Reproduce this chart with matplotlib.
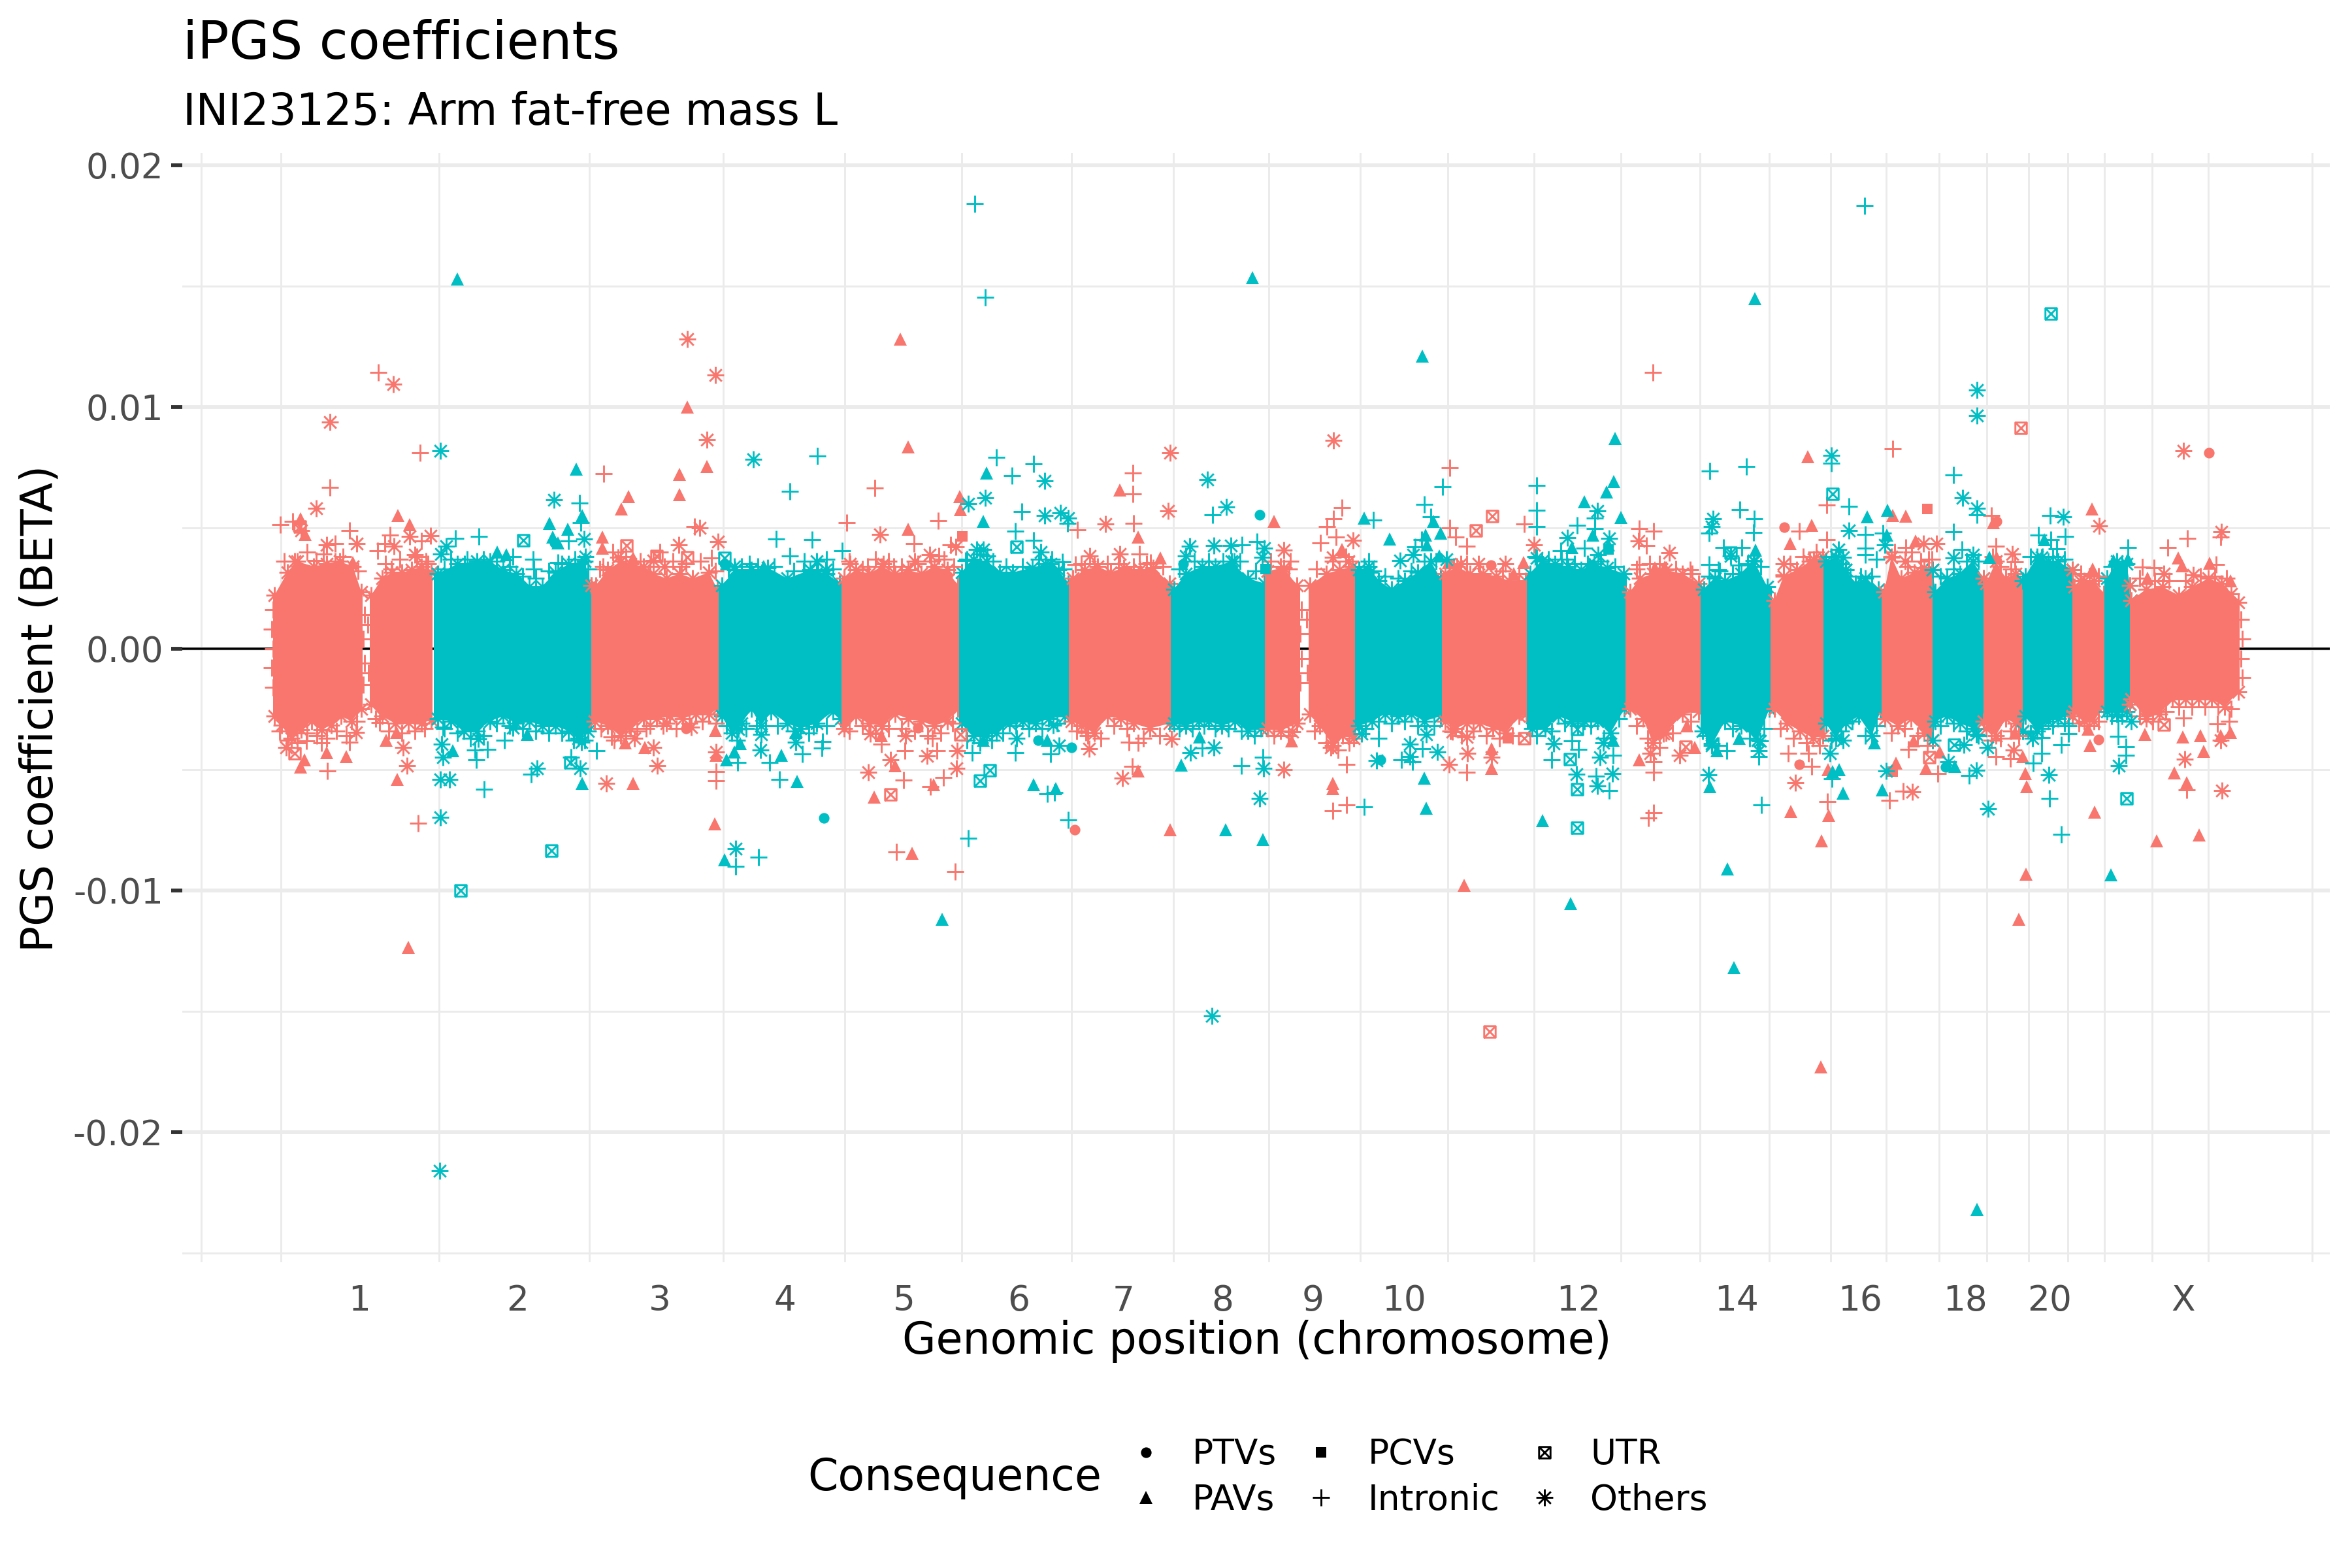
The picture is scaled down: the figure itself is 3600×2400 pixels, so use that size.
import numpy as np
import matplotlib
matplotlib.use('Agg')
import matplotlib.pyplot as plt
from matplotlib.path import Path
from matplotlib.lines import Line2D

W, H = 3600, 2400
PANEL = (279, 3566, 234, 1932)  # left, right, top, bottom in px

RED = '#F8766D'
CYAN = '#00BFC4'

# x is the cumulative genomic position in plot units, beta is in units of 1e-3
x_lim = (279, 3566)
y_lim = (-25.38, 20.5)
y_major = [-20, -10, 0, 10, 20]
y_labels = ['-0.02', '-0.01', '0.00', '0.01', '0.02']
y_minor = [-25, -15, -5, 5, 15]
chrom_breaks = [308, 430, 672, 902, 1107, 1293, 1472, 1640, 1796, 1942, 2082, 2216, 2348,
                2481, 2602, 2708, 2802, 2887, 2968, 3041, 3105, 3165, 3221, 3294, 3380, 3539]
chrom_names = ['1', '2', '3', '4', '5', '6', '7', '8', '9', '10', '12', '14', '16', '18', '20', 'X']
chrom_mid = [550, 792, 1010, 1201, 1384, 1559, 1720, 1871, 2010, 2149, 2416, 2658, 2847, 3008, 3137, 3342]

# dense band of each chromosome: outline
seg_left = [418, 566, 664, 905, 1100, 1288, 1468, 1636, 1792, 1936, 2003, 2074, 2207, 2337,
            2488, 2603, 2710, 2791, 2880, 2958, 3036, 3096, 3172, 3221, 3260]
seg_right = [555, 662, 906, 1102, 1290, 1470, 1638, 1794, 1938, 1990, 2076, 2209, 2339, 2490,
             2605, 2712, 2793, 2882, 2960, 3038, 3098, 3174, 3223, 3262, 3428]
seg_colors = [RED, RED, CYAN, RED, CYAN, RED, CYAN, RED, CYAN, RED, RED, CYAN, RED, CYAN,
              RED, CYAN, RED, CYAN, RED, CYAN, RED, CYAN, RED, CYAN, RED]
band_top = [
    (420,1.9),(440,2.85),(455,3.3),(480,3.1),(500,3.2),(520,3.3),(540,3.1),(553,2.05),
    (568,1.9),(585,2.6),(600,2.85),(615,2.85),(630,2.95),(645,3.1),(660,2.85),
    (670,2.8),(700,3.2),(730,3.3),(750,3.3),(770,2.95),(790,2.8),(810,2.25),(830,2.25),(850,2.85),(870,3.2),(895,3.3),(905,2.3),
    (912,2.3),(930,2.95),(950,3.3),(965,3.2),(985,3.1),(1000,2.8),(1020,2.6),(1040,2.8),(1060,2.6),(1085,2.85),(1098,2.15),
    (1105,2.3),(1125,2.95),(1150,2.95),(1175,3.05),(1205,2.6),(1240,2.95),(1265,2.8),(1285,2.4),
    (1292,2.6),(1310,2.95),(1330,2.8),(1350,3.1),(1370,2.8),(1390,2.95),(1410,2.8),(1430,3.1),(1450,2.95),(1466,2.3),
    (1472,2.85),(1490,3.4),(1510,3.3),(1530,2.85),(1550,2.85),(1580,3.05),(1600,3.2),(1620,2.95),(1635,2.4),
    (1642,2.6),(1660,2.95),(1680,3.1),(1700,2.85),(1720,3.05),(1745,2.95),(1765,3.05),(1790,2.4),
    (1797,2.15),(1815,2.8),(1840,3.1),(1860,3.1),(1885,3.3),(1910,2.6),(1935,2.4),
    (1940,2.9),(1965,3.05),(1985,2.3),
    (2005,2.3),(2030,2.8),(2050,2.95),(2070,3.1),
    (2080,2.95),(2095,3.1),(2110,2.5),(2130,2.15),(2150,2.5),(2170,2.85),(2190,3.3),(2205,2.6),
    (2212,2.8),(2230,3.1),(2250,2.8),(2270,2.8),(2290,2.7),(2310,2.5),(2335,2.5),
    (2342,2.8),(2360,3.3),(2380,3.2),(2400,3.1),(2420,2.95),(2440,3.2),(2460,3.05),(2485,2.8),
    (2495,2.05),(2510,2.6),(2530,2.8),(2550,2.95),(2575,2.8),(2600,2.4),
    (2608,2.15),(2625,2.6),(2640,2.5),(2665,2.8),(2685,3.3),(2705,2.25),
    (2716,1.7),(2730,2.7),(2750,2.95),(2770,3.3),(2790,3.5),
    (2795,3.3),(2810,3.5),(2825,2.95),(2840,2.4),(2855,2.6),(2875,2.15),
    (2884,2.05),(2895,3.5),(2910,2.6),(2930,2.85),(2945,3.05),(2958,2.95),
    (2962,2.05),(2980,2.6),(3000,2.8),(3020,3.3),(3036,2.6),
    (3040,2.4),(3055,3.3),(3070,2.6),(3085,2.8),(3096,2.5),
    (3100,2.7),(3118,3.5),(3135,3.3),(3150,3.3),(3172,2.95),
    (3175,2.25),(3190,2.5),(3205,2.5),(3220,1.95),
    (3225,2.6),(3240,3.3),(3255,3.2),(3260,2.3),
    (3262,1.7),(3285,2.15),(3310,2.25),(3335,1.9),(3355,2.25),(3380,2.6),(3400,2.4),(3415,1.95),(3426,1.6),
]
band_bot = [
    (420,-2.5),(431,-2.87),(446,-3.4),(461,-3.05),(477,-2.7),(492,-3.05),(507,-2.87),(522,-2.5),(538,-2.7),(553,-2.2),
    (568,-2.0),(585,-2.5),(605,-2.8),(625,-2.75),(645,-2.8),(660,-2.65),
    (670,-2.6),(690,-2.7),(710,-3.1),(730,-3.1),(750,-2.7),(770,-2.5),(790,-2.8),(810,-2.7),(830,-2.9),(850,-2.9),(870,-3.1),(885,-3.4),(900,-3.1),
    (910,-2.7),(930,-2.9),(950,-3.3),(965,-3.0),(985,-2.6),(1005,-2.6),(1025,-2.5),(1045,-2.6),(1065,-2.4),(1085,-2.4),(1098,-2.2),
    (1105,-2.5),(1120,-3.2),(1135,-2.8),(1150,-2.2),(1165,-2.9),(1180,-2.3),(1205,-2.8),(1225,-3.0),(1250,-2.8),(1275,-2.3),(1287,-2.6),
    (1292,-3.0),(1310,-2.5),(1330,-2.8),(1350,-2.9),(1370,-2.4),(1390,-2.6),(1410,-2.7),(1430,-2.9),(1450,-2.7),(1466,-2.2),
    (1472,-2.8),(1490,-3.3),(1510,-3.3),(1525,-3.2),(1545,-2.8),(1565,-2.7),(1585,-2.8),(1605,-2.6),(1630,-2.5),
    (1640,-2.7),(1655,-2.9),(1675,-3.2),(1695,-2.5),(1715,-2.6),(1735,-2.8),(1760,-3.0),(1790,-2.8),
    (1797,-2.8),(1815,-2.9),(1835,-2.7),(1850,-2.7),(1870,-2.9),(1890,-2.7),(1910,-3.1),(1930,-3.0),
    (1940,-3.0),(1960,-3.1),(1985,-2.8),
    (2005,-2.4),(2020,-2.9),(2040,-3.7),(2055,-3.3),(2072,-3.4),
    (2080,-2.9),(2100,-2.7),(2120,-2.4),(2140,-2.5),(2160,-2.4),(2180,-2.7),(2205,-2.5),
    (2212,-2.7),(2228,-3.0),(2245,-2.8),(2265,-2.8),(2285,-3.0),(2305,-3.2),(2325,-2.5),(2336,-2.4),
    (2345,-3.0),(2365,-3.0),(2385,-2.5),(2405,-2.7),(2425,-2.7),(2445,-2.7),(2465,-3.2),(2486,-2.2),
    (2495,-2.2),(2515,-2.6),(2530,-3.6),(2550,-3.2),(2575,-2.4),(2600,-2.3),
    (2606,-3.1),(2620,-3.7),(2640,-2.7),(2665,-2.9),(2690,-3.5),(2708,-2.2),
    (2716,-2.2),(2735,-2.8),(2755,-3.1),(2775,-3.4),(2790,-3.3),
    (2795,-2.8),(2810,-3.4),(2825,-2.8),(2845,-2.5),(2865,-3.3),(2878,-2.3),
    (2885,-2.6),(2905,-2.9),(2925,-2.6),(2945,-3.2),(2958,-3.5),
    (2962,-2.7),(2980,-2.5),(3000,-2.8),(3020,-3.0),(3036,-2.7),
    (3040,-3.0),(3055,-3.3),(3070,-2.6),(3085,-2.8),(3096,-3.1),
    (3100,-2.5),(3118,-3.1),(3135,-2.7),(3150,-2.6),(3172,-2.5),
    (3175,-2.3),(3190,-2.7),(3205,-2.7),(3220,-2.1),
    (3225,-2.3),(3240,-2.4),(3255,-2.3),(3260,-2.0),
    (3262,-1.8),(3285,-2.6),(3305,-2.4),(3325,-1.8),(3345,-1.8),(3365,-1.8),(3385,-1.8),(3405,-2.1),(3426,-1.5),
]

# loose marks around the band and along its outer sides
fringe_red = [
    (435,3.6),(470,4.0),(495,3.9),(525,3.8),(548,3.2),(590,3.5),(612,3.7),(638,3.8),(652,3.6),(918,3.3),(938,4.0),(958,3.8),(980,3.6),(995,3.4),(1030,3.6),(1050,3.5),(1072,3.6),(1095,3.2),
    (1300,3.6),(1320,3.3),(1340,3.7),(1360,3.6),(1380,3.4),(1405,3.5),(1425,3.6),(1445,3.7),(1460,3.4),(1655,3.5),(1675,3.5),(1695,3.5),(1712,3.5),(1735,3.4),(1755,3.5),(1780,3.4),
    (1945,3.6),(1975,3.6),(2015,3.3),(2040,3.6),(2060,3.8),(2225,3.4),(2245,3.5),(2265,3.1),(2300,3.2),(2325,3.1),(2505,3.3),(2525,3.5),(2540,3.5),(2565,3.3),(2590,3.1),
    (2740,3.5),(2760,3.8),(2780,4.0),(2900,4.0),(2920,3.4),(2940,3.6),(2952,3.7),(3050,3.8),(3062,3.4),(3078,3.3),(3185,3.1),(3198,3.0),(3212,3.0),
    (3275,2.9),(3298,2.8),(3320,2.8),(3345,2.8),(3368,3.0),(3390,3.0),(3408,2.9),
    (428,-3.4),(440,-3.8),(455,-3.9),(470,-3.5),(485,-3.6),(500,-3.7),(515,-3.4),(530,-3.6),(546,-3.0),(575,-2.9),(595,-3.4),(615,-3.5),(635,-3.4),(650,-3.3),
    (920,-3.3),(940,-3.8),(958,-3.6),(975,-3.4),(995,-3.2),(1015,-3.2),(1035,-3.3),(1055,-3.1),(1075,-3.0),(1300,-3.4),(1320,-3.2),(1340,-3.5),(1360,-3.3),(1380,-3.3),(1400,-3.4),(1420,-3.6),(1440,-3.5),(1458,-3.1),
    (1648,-3.4),(1665,-3.6),(1685,-3.7),(1705,-3.2),(1725,-3.3),(1750,-3.7),(1775,-3.6),(1950,-3.6),(1972,-3.6),(2012,-3.4),(2030,-3.9),(2048,-4.2),(2065,-3.9),
    (2220,-3.4),(2237,-3.6),(2255,-3.4),(2275,-3.6),(2295,-3.7),(2315,-3.6),(2505,-3.2),(2522,-3.7),(2540,-4.1),(2560,-3.5),(2588,-3.0),
    (2725,-3.3),(2745,-3.7),(2765,-3.9),(2785,-4.0),(2895,-3.5),(2915,-3.3),(2935,-3.6),(2950,-4.0),(3048,-3.8),(3062,-3.7),(3078,-3.4),(3090,-3.6),
    (3182,-3.1),(3198,-3.2),(3212,-3.0),(3275,-2.8),(3295,-3.0),(3315,-2.6),(3335,-2.4),(3355,-2.4),(3375,-2.4),(3395,-2.4),(3415,-2.5),
    (418,1.6),(416,0.8),(418,0.0),(416,-0.8),(418,-1.6),(3430,1.2),(3432,0.4),(3430,-0.4),(3432,-1.2),
    (558,1.4),(556,0.4),(558,-0.6),(556,-1.5),(563,1.0),(564,-1.0),
    (1992,1.6),(1990,0.6),(1992,-0.4),(1990,-1.4),(2000,1.2),(2001,-1.0),
]
fringe_cyan = [
    (680,3.3),(690,3.7),(715,3.7),(740,3.7),(760,3.6),(780,3.4),(800,3.0),(820,2.9),(840,3.2),(860,3.5),(880,3.7),(900,3.3),(1115,3.3),(1135,3.4),(1160,3.4),(1185,3.4),(1215,3.2),(1230,3.2),(1252,3.2),(1275,3.3),
    (1480,3.7),(1500,3.9),(1520,3.6),(1540,3.4),(1565,3.4),(1590,3.7),(1610,3.7),(1628,3.3),(1805,3.3),(1828,3.6),(1850,3.6),(1872,3.6),(1898,3.6),(1922,3.2),
    (2088,3.4),(2102,3.2),(2120,3.0),(2140,2.9),(2160,3.2),(2180,3.6),(2198,3.6),(2350,3.8),(2370,3.7),(2390,3.7),(2410,3.5),(2430,3.5),(2450,3.6),(2472,3.4),
    (2616,3.0),(2632,3.2),(2652,3.1),(2675,3.5),(2695,3.4),(2803,3.8),(2818,3.5),(2832,3.0),(2848,3.0),(2865,3.0),(2970,3.0),(2990,3.3),(3010,3.6),(3028,3.6),(3108,3.8),(3126,3.8),(3142,3.8),(3160,3.7),(3232,3.4),(3248,3.5),
    (680,-3.3),(700,-3.5),(720,-3.7),(740,-3.6),(760,-3.1),(780,-3.2),(800,-3.3),(820,-3.4),(840,-3.5),(860,-3.5),(878,-3.8),(895,-3.8),(1112,-3.2),(1128,-3.8),(1142,-3.3),(1158,-3.2),(1172,-3.2),(1190,-3.2),(1215,-3.4),(1238,-3.5),(1265,-3.2),
    (1480,-3.8),(1500,-3.9),(1518,-3.8),(1535,-3.5),(1555,-3.2),(1575,-3.3),(1595,-3.3),(1618,-3.1),(1805,-3.3),(1825,-3.3),(1843,-3.2),(1860,-3.3),(1880,-3.3),(1900,-3.4),(1920,-3.6),
    (2090,-3.3),(2110,-3.0),(2130,-3.1),(2150,-3.0),(2170,-3.2),(2195,-3.2),(2352,-3.6),(2375,-3.4),(2395,-3.1),(2415,-3.2),(2435,-3.2),(2455,-3.7),(2478,-2.9),
    (2612,-3.6),(2630,-4.0),(2652,-3.3),(2678,-3.7),(2700,-3.3),(2803,-3.8),(2818,-3.4),(2835,-3.0),(2855,-3.6),(2872,-3.2),(2970,-3.2),(2990,-3.1),(3010,-3.4),(3028,-3.6),(3108,-3.5),(3126,-3.3),(3142,-3.2),(3160,-3.1),(3232,-2.8),(3248,-2.8),
]

# single points outside the band, odd chromosomes and X (red)
intronic_red = [
    (429,5.13),(448,5.27),(505,6.66),(535,4.89),(513,4.33),(643,8.1),(597,4.69),(589,4.33),(578,4.05),(645,4.46),(484,3.65),(513,3.6),
    (599,3.3),(655,3.5),(579,11.43),(924,7.22),(1063,5.04),(1010,4.0),(1089,3.74),(923,3.4),(1043,3.4),(1339,6.64),(1296,5.2),(1436,5.29),
    (1399,4.34),(1455,4.3),(1437,3.83),(1328,3.4),(1368,3.4),(1649,4.91),(1734,7.25),(1734,6.4),(1735,5.18),(1744,3.92),(1646,3.47),(1761,3.56),
    (1973,3.3),(1960,3.4),(2219,7.48),(2054,5.83),(2041,5.36),(2031,5.05),(2045,4.61),(2021,4.37),(2219,5.0),(2228,4.62),(2245,4.24),(2333,5.14),
    (2530,11.43),(2509,4.95),(2531,4.85),(2520,4.25),(2509,3.49),(2587,3.26),(2754,4.85),(2730,3.05),(2796,5.93),(2796,4.5),(2897,8.26),(2917,4.19),
    (2926,4.0),(2957,3.7),(3048,5.5),(3055,4.24),(3084,3.59),(3318,4.19),(3348,4.55),(3399,4.6),(3279,3.38),(3297,3.33),(3392,3.47),
    (501,-5.06),(535,-3.86),(469,-3.83),(492,-3.9),(581,-3.07),(640,-7.23),(936,-3.65),(989,-3.3),(1096,-3.08),(1096,-5.09),(1096,-5.47),(1383,-5.45),
    (1385,-4.21),(1434,-4.22),(1444,-5.32),(1424,-5.72),(1349,-3.95),(1427,-3.72),(1372,-8.42),(1462,-9.23),(1662,-3.47),(1728,-3.87),(1742,-3.89),(1733,-4.87),
    (2061,-4.8),(2040,-6.71),(2061,-6.47),(2245,-5.12),(2531,-4.69),(2531,-5.12),(2531,-6.8),(2523,-7.0),(2737,-4.34),(2768,-4.34),(2773,-4.88),(2797,-6.33),
    (2892,-6.29),(2913,-5.9),(2921,-4.16),(2966,-5.18),(3055,-4.46),(3077,-4.55),(3342,-2.88),(3347,-5.84),(3412,-3.02),(3394,-3.11),
]
pavs_red = [
    (460,5.36),(467,4.73),(609,5.5),(627,5.12),(540,3.56),(962,6.29),(951,5.77),(1040,7.2),(1040,6.38),(1082,7.52),(922,4.6),(922,4.15),(969,3.74),
    (1052,10.0),(1378,12.8),(1390,8.33),(1390,4.94),(1469,6.3),(1470,5.75),(1714,6.55),(1742,4.62),(1776,3.74),(1950,5.27),(2054,4.1),(2217,3.56),(2332,3.56),
    (2317,3.1),(2533,3.33),(2548,3.38),(2767,7.93),(2773,5.09),(2740,4.33),(2897,5.51),(2917,5.48),(2932,4.46),(3051,5.22),(3056,3.78),(3202,5.77),(3203,3.29),
    (3334,3.74),(3340,3.43),(3382,3.52),(3287,2.9),(3414,2.8),
    (466,-4.6),(460,-4.9),(500,-4.3),(530,-4.48),(591,-3.8),(607,-3.47),(608,-5.42),(625,-12.35),(969,-5.57),(987,-4.1),(957,-3.9),(1095,-3.38),(1096,-4.4),
    (1094,-7.25),(1338,-6.13),(1370,-4.85),(1429,-5.63),(1349,-3.6),(1396,-8.47),(1742,-5.06),(1791,-7.48),(1977,-3.83),(2040,-5.58),(2040,-5.8),(2241,-9.8),
    (2283,-4.95),(2283,-4.15),(2509,-4.6),(2594,-4.1),(2582,-3.2),(2741,-6.73),(2788,-7.94),(2787,-17.3),(2798,-5.0),(2799,-6.89),(2902,-4.73),(2929,-3.83),
    (2948,-4.96),(2969,-4.28),(3096,-4.46),(3100,-5.18),(3102,-5.72),(3084,-3.5),(3101,-9.32),(3090,-11.2),(3206,-6.77),(3199,-4.01),(3196,-3.34),(3283,-3.56),
    (3341,-3.65),(3368,-3.59),(3373,-4.26),(3328,-5.14),(3347,-5.54),(3301,-7.94),(3366,-7.7),(3399,-3.6),(3414,-3.47),
]
others_red = [
    (461,4.87),(484,5.79),(505,9.38),(500,4.3),(546,4.33),(627,4.64),(659,4.67),(603,4.23),(635,3.87),(451,3.6),(602,10.93),(1052,12.79),(1095,11.3),(1082,8.65),
    (1071,5.0),(1099,4.43),(1039,4.28),(946,3.78),(1000,3.65),(1017,3.4),(1347,4.71),(1463,4.2),(1423,3.87),(1400,3.6),(1352,3.5),(1301,3.5),(1692,5.15),(1714,3.9),
    (1668,3.83),(1791,8.1),(1788,5.68),(1965,4.07),(2041,8.6),(2071,4.49),(2040,3.78),(2064,3.6),(2348,4.28),(2263,3.5),(2304,3.5),(2236,3.5),(2508,4.44),(2555,3.97),
    (2730,3.5),(2776,3.7),(2944,4.33),(2964,4.33),(2916,3.6),(2895,3.78),(3080,3.9),(3213,5.07),(3184,2.8),(3400,4.82),(3342,8.17),(3312,3.1),(3357,3.05),
    (438,-4.1),(545,-3.47),(617,-4.08),(623,-4.85),(928,-5.57),(1006,-4.85),(1000,-4.1),(971,-3.7),(1058,-3.25),(1020,-3.1),(1096,-4.28),(1329,-5.11),(1363,-4.61),
    (1419,-4.43),(1464,-4.96),(1465,-4.21),(1332,-3.53),(1386,-3.59),(1667,-4.15),(1718,-5.36),(1793,-3.74),(1965,-5.02),(1978,-3.44),(2037,-4.1),(2218,-4.78),
    (2246,-4.34),(2283,-4.5),(2245,-3.65),(2223,-3.44),(2526,-4.33),(2571,-4.42),(2546,-3.52),(2748,-5.56),(2927,-5.93),(3082,-4.19),(3344,-4.57),(3401,-5.86),(3399,-3.79),
]
utr_red = [(459,5.05),(959,4.25),(1052,3.78),(1005,3.83),(2259,4.87),(2284,5.47),(3093,9.13),(451,-4.33),(1363,-6.04),(1470,-3.56),(2280,-15.85),(2333,-3.7),(2580,-4.06),(2953,-4.5),(3312,-3.13)]
pcvs_red = [(1473,4.64),(2950,5.78),(2308,-3.72),(2897,-5.09)]
ptvs_red = [(1450,3.0),(2282,3.44),(2731,5.03),(3056,5.27),(3381,8.09),(1050,-3.3),(1405,-3.29),(1645,-7.48),(2754,-4.78),(3212,-3.77)]

# even chromosomes (cyan)
intronic_cyan = [
    (697,4.55),(733,4.64),(816,3.7),(817,3.3),(711,3.5),(785,3.8),(887,6.02),(889,5.22),(870,4.44),(854,3.56),(1188,4.52),(1147,3.5),(1209,6.5),(1251,7.95),(1243,4.5),
    (1209,3.83),(1231,3.6),(1265,3.7),(1289,4.05),(1492,18.38),(1508,14.53),(1525,7.9),(1549,7.15),(1582,7.64),(1564,5.66),(1634,5.18),(1554,4.85),(1582,4.49),(1511,3.83),
    (1478,3.65),(1626,3.59),(1856,5.52),(1901,4.3),(1924,4.43),(2102,5.32),(2180,5.95),(2190,5.45),(2208,6.68),(2176,4.5),(2166,4.2),(2095,3.62),(2352,6.74),(2352,5.72),
    (2352,5.05),(2414,5.09),(2441,5.4),(2441,4.95),(2425,4.15),(2389,4.04),(2398,3.7),(2617,7.34),(2673,7.54),(2663,5.75),(2685,5.38),(2616,4.78),(2684,4.79),(2638,4.19),
    (2666,4.19),(2616,3.47),(2630,3.25),(2661,3.44),(2854,18.32),(2803,7.67),(2830,5.87),(2855,4.73),(2882,4.78),(2855,4.15),(2855,3.88),(2872,3.7),(2990,7.18),(3026,5.54),
    (2990,4.82),(3003,4.1),(3138,5.51),(3120,4.69),(3161,4.64),(3139,4.5),(3148,4.13),(3120,3.38),(3257,4.19),
    (678,-3.25),(741,-5.83),(813,-5.2),(874,-4.5),(913,-4.23),(772,-3.79),(729,-4.6),(727,-4.19),(746,-4.16),(1129,-4.7),(1178,-4.71),(1193,-5.42),(1126,-9.0),(1161,-8.63),
    (1228,-4.37),(1259,-3.85),(1258,-4.12),(1245,-3.23),(1482,-7.85),(1488,-4.3),(1554,-4.3),(1608,-4.37),(1603,-6.02),(1614,-5.95),(1635,-7.1),(1840,-4.12),(1900,-4.84),
    (1933,-4.49),(2088,-6.56),(2145,-4.61),(2162,-4.68),(2177,-4.15),(2110,-3.7),(2375,-4.61),(2406,-3.83),(2416,-4.17),(2443,-5.29),(2463,-5.86),(2469,-4.4),(2696,-6.47),
    (2643,-4.22),(2692,-4.46),(2804,-5.39),(3014,-5.24),(3112,-4.73),(3125,-4.33),(3125,-3.67),(3137,-6.2),(3155,-3.98),(3155,-7.68),(3166,-3.53),(3166,-3.2),(3242,-3.62),
    (3254,-4.06),(3254,-4.4),(3242,-2.98),
]
pavs_cyan = [
    (761,4.0),(775,3.88),(700,15.28),(882,7.43),(891,5.5),(841,5.18),(869,4.94),(846,4.6),(854,4.37),(1169,3.4),(1510,7.25),(1505,5.27),(1917,15.34),(2177,12.1),(2088,5.4),
    (2127,4.53),(2194,5.27),(2205,4.77),(2182,4.68),(2184,4.28),(2203,3.83),(2425,6.08),(2459,6.47),(2470,6.92),(2472,8.69),(2481,5.42),(2438,4.68),(2462,4.28),(2406,4.19),
    (2434,3.47),(2686,14.47),(2687,4.06),(2858,5.45),(2889,5.72),(2888,4.68),(3045,3.78),(3129,4.5),(3235,3.65),(3257,3.7),
    (807,-3.56),(693,-4.23),(891,-5.58),(1112,-4.6),(1124,-4.28),(1133,-3.92),(1196,-4.4),(1109,-8.74),(1220,-5.5),(1218,-3.47),(1442,-11.2),(1505,-3.79),(1603,-3.79),(1582,-5.63),
    (1616,-5.78),(1808,-4.82),(1876,-7.49),(1933,-7.91),(1836,-3.65),(2180,-5.36),(2183,-6.59),(2361,-7.12),(2404,-10.55),(2469,-3.79),(2617,-5.72),(2644,-9.12),(2654,-13.2),
    (2628,-4.23),(2662,-3.7),(2805,-5.09),(2815,-5.0),(2821,-5.97),(2869,-3.89),(2881,-5.84),(2992,-4.87),(3026,-23.2),(3231,-9.35),
]
others_cyan = [
    (674,8.18),(683,4.23),(675,3.9),(848,6.14),(894,4.52),(896,3.8),(1153,7.84),(1124,3.4),(1250,3.6),(1264,3.25),(1599,6.94),(1508,6.23),(1482,6.0),(1599,5.51),(1623,5.6),(1635,5.39),
    (1593,3.99),(1495,4.1),(1505,4.1),(1608,3.5),(1848,6.98),(1877,5.86),(1821,4.24),(1858,4.25),(1884,4.25),(1935,4.15),(1815,3.83),(1889,3.6),(1932,3.78),(2163,3.88),(2143,3.65),
    (2097,3.15),(2214,3.7),(2445,5.69),(2399,4.58),(2463,4.55),(2352,3.74),(2446,3.87),(2622,5.36),(2620,5.05),(2649,3.83),(2684,3.65),(2803,8.0),(2830,4.89),(2885,4.28),(2814,4.1),
    (2821,3.78),(2825,3.25),(3004,6.23),(3026,5.81),(2990,3.74),(3020,3.87),(3026,10.68),(3026,9.63),(3158,5.45),(3125,3.78),
    (673,-21.6),(674,-6.98),(674,-5.42),(688,-5.42),(822,-4.95),(888,-4.94),(785,-3.29),(678,-4.5),(676,-3.96),(732,-3.74),(890,-3.87),(1164,-4.19),(1130,-3.33),(1165,-3.56),(1126,-8.27),
    (1218,-3.86),(1556,-3.7),(1621,-4.01),(1612,-3.16),(1855,-15.2),(1822,-4.31),(1858,-4.1),(1934,-4.96),(1928,-6.2),(2107,-4.64),(2158,-4.46),(2158,-3.95),(2200,-4.28),(2084,-3.52),
    (2183,-3.56),(2378,-3.92),(2413,-5.2),(2468,-5.18),(2445,-5.68),(2449,-4.49),(2454,-3.89),(2615,-5.22),(2694,-3.83),(2692,-4.23),(2620,-3.92),(2801,-4.33),(2821,-3.79),(2887,-5.05),
    (3006,-3.98),(2982,-4.69),(3025,-5.03),(3043,-6.64),(3042,-4.1),(3025,-3.56),(3136,-5.22),(3111,-3.7),(3243,-4.85),(3262,-3.02),
]
utr_cyan = [(801,4.47),(1109,3.74),(1556,4.22),(2649,3.97),(2805,6.4),(3139,13.85),(705,-10.0),(844,-8.36),(873,-4.7),(1515,-5.03),(1500,-5.47),(2414,-7.41),(2414,-5.83),(2403,-4.57),(2414,-3.34),(2991,-3.97),(3255,-6.2)]
pcvs_cyan = [(1937,3.3),(2462,4.1)]
ptvs_cyan = [(849,4.37),(1109,3.5),(1811,3.5),(1928,5.52),(1261,-7.0),(1589,-3.79),(1640,-4.1),(2113,-4.61),(2978,-4.91)]

legend_labels = ['PTVs', 'PAVs', 'PCVs', 'Intronic', 'UTR', 'Others']


# asterisk and boxed cross, the two shapes matplotlib has no marker for
d = 0.72
STAR = Path([(-1, 0), (1, 0), (0, -1), (0, 1), (-d, -d), (d, d), (-d, d), (d, -d)],
            [Path.MOVETO, Path.LINETO] * 4)
BOX = Path([(-1, -1), (1, -1), (1, 1), (-1, 1), (-1, -1), (1, 1), (-1, 1), (1, -1)],
           [Path.MOVETO, Path.LINETO, Path.LINETO, Path.LINETO, Path.LINETO, Path.LINETO, Path.MOVETO, Path.LINETO])

STYLE = {
    'PTVs': dict(marker='o', ms=3.9, mew=0),
    'PAVs': dict(marker='^', ms=4.6, mew=0),
    'PCVs': dict(marker='s', ms=3.8, mew=0),
    'Intronic': dict(marker='+', ms=6.2, mew=0.7),
    'UTR': dict(marker=BOX, ms=4.2, mew=0.7, mfc='none'),
    'Others': dict(marker=STAR, ms=6.2, mew=0.7, mfc='none'),
}
band_pad = 0.3


def draw_points(ax, pts, kind, color, z=3):
    pts = np.array(pts, dtype=float)
    ax.plot(pts[:, 0], pts[:, 1], ls='none', color=color, mec=color, zorder=z, clip_on=False, **STYLE[kind])


fig = plt.figure(figsize=(W / 300, H / 300), dpi=300)
ax = fig.add_axes([PANEL[0] / W, 1 - PANEL[3] / H, (PANEL[1] - PANEL[0]) / W, (PANEL[3] - PANEL[2]) / H])
ax.set_xlim(*x_lim)
ax.set_ylim(*y_lim)
for s in ax.spines.values():
    s.set_visible(False)

ax.set_yticks(y_major)
ax.set_yticklabels(y_labels, color='#4D4D4D', fontsize=12.8)
ax.set_yticks(y_minor, minor=True)
ax.set_xticks(chrom_mid)
ax.set_xticklabels(chrom_names, color='#4D4D4D', fontsize=12.8)
ax.set_xticks(chrom_breaks, minor=True)
ax.tick_params(axis='x', which='both', length=0, pad=8)
ax.tick_params(axis='y', which='major', length=4, width=1.4, color='#333333', pad=3)
ax.tick_params(axis='y', which='minor', length=0)
ax.grid(axis='y', which='major', color='#EBEBEB', lw=1.4, zorder=0)
ax.grid(axis='y', which='minor', color='#EBEBEB', lw=0.7, zorder=0)
ax.grid(axis='x', which='minor', color='#EBEBEB', lw=0.7, zorder=0)
ax.set_axisbelow(True)
ax.axhline(0, color='black', lw=0.85, zorder=1)

# dense bands, one segment at a time so later chromosomes sit on top
top = np.array(band_top, dtype=float)
bot = np.array(band_bot, dtype=float)
top[:, 1] += band_pad
bot[:, 1] -= band_pad
for i, col in enumerate(seg_colors):
    a, b = seg_left[i], seg_right[i]
    t = top[(top[:, 0] >= a) & (top[:, 0] <= b)]
    u = bot[(bot[:, 0] >= a) & (bot[:, 0] <= b)]
    xs = np.r_[a, t[:, 0], b, b, u[::-1, 0], a]
    ys = np.r_[t[0, 1], t[:, 1], t[-1, 1], u[-1, 1], u[::-1, 1], u[0, 1]]
    ax.fill(xs, ys, color=col, lw=0, zorder=2)
    draw_points(ax, t, 'Others', col, z=2)
    draw_points(ax, u, 'Others', col, z=2)

draw_points(ax, fringe_red, 'Intronic', RED, z=2)
draw_points(ax, fringe_cyan, 'Intronic', CYAN, z=2)

for kind, pts in [('Intronic', intronic_red), ('PAVs', pavs_red), ('Others', others_red),
                  ('UTR', utr_red), ('PCVs', pcvs_red), ('PTVs', ptvs_red)]:
    draw_points(ax, pts, kind, RED)
for kind, pts in [('Intronic', intronic_cyan), ('PAVs', pavs_cyan), ('Others', others_cyan),
                  ('UTR', utr_cyan), ('PCVs', pcvs_cyan), ('PTVs', ptvs_cyan)]:
    draw_points(ax, pts, kind, CYAN)

fig.text(280 / W, 1 - 68 / H, 'iPGS coefficients', fontsize=19.2, va='center', ha='left')
fig.text(280 / W, 1 - 172 / H, 'INI23125: Arm fat-free mass L', fontsize=16, va='center', ha='left')
fig.text(62 / W, 1 - 1084 / H, 'PGS coefficient (BETA)', fontsize=16, rotation=90, va='center', ha='center')
fig.text(1924 / W, 1 - 2053 / H, 'Genomic position (chromosome)', fontsize=16, va='center', ha='center')
fig.text(1236 / W, 1 - 2262 / H, 'Consequence', fontsize=16, va='center', ha='left')

handles = [Line2D([], [], ls='none', color='black', mec='black', **STYLE[k]) for k in legend_labels]
fig.legend(handles, legend_labels, ncol=3, frameon=False, fontsize=12.8, loc='center left',
           bbox_to_anchor=(1722 / W, 1 - 2261 / H), handletextpad=0.73, columnspacing=0.68,
           labelspacing=0.33, handlelength=1.2, borderpad=0, borderaxespad=0)

fig.savefig('out.png', dpi=300)
